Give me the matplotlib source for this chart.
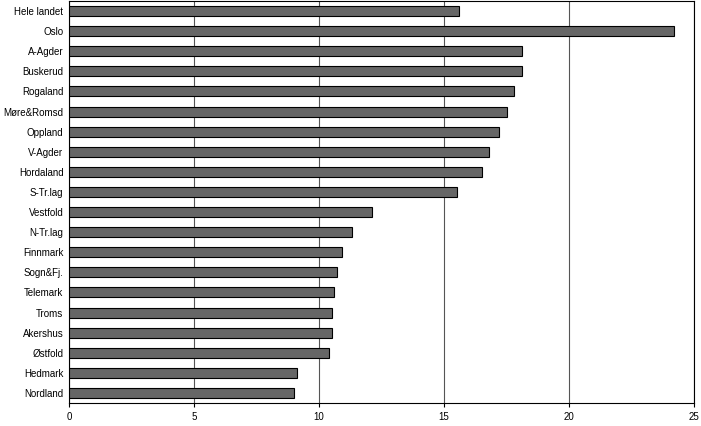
import matplotlib
matplotlib.use("Agg")
import matplotlib.pyplot as plt

categories = ["Hele landet","Oslo","A-Agder","Buskerud","Rogaland","Møre&Romsd","Oppland","V-Agder",
              "Hordaland","S-Tr.lag","Vestfold","N-Tr.lag","Finnmark","Sogn&Fj.","Telemark","Troms",
              "Akershus","Østfold","Hedmark","Nordland"]
values = [15.6,24.2,18.1,18.1,17.8,17.5,17.2,16.8,16.5,15.5,12.1,11.3,10.9,10.7,10.6,10.5,10.5,10.4,9.1,9.0]

fig = plt.figure(figsize=(7.01,4.26), dpi=100)
ax = fig.add_axes([69/701, 23/426, 625/701, 402/426])
y = list(range(len(categories)))
ax.barh(y, values, height=0.5, color="#666666", edgecolor="black", linewidth=0.8, zorder=3)
ax.set_ylim(len(categories)-0.5, -0.5)
ax.set_xlim(0, 25)
ax.set_xticks([0,5,10,15,20,25])
ax.set_yticks(y)
ax.set_yticklabels(categories, fontsize=7, family="Liberation Sans")
for l in ax.get_xticklabels():
    l.set_fontsize(7); l.set_family("Liberation Sans")
ax.tick_params(axis="y", length=0, pad=4)
ax.tick_params(axis="x", length=3, direction="out")
ax.grid(axis="x", color="#555555", linewidth=0.8, zorder=0)
for s in ax.spines.values():
    s.set_linewidth(0.8)
fig.savefig("out.png", dpi=100)
